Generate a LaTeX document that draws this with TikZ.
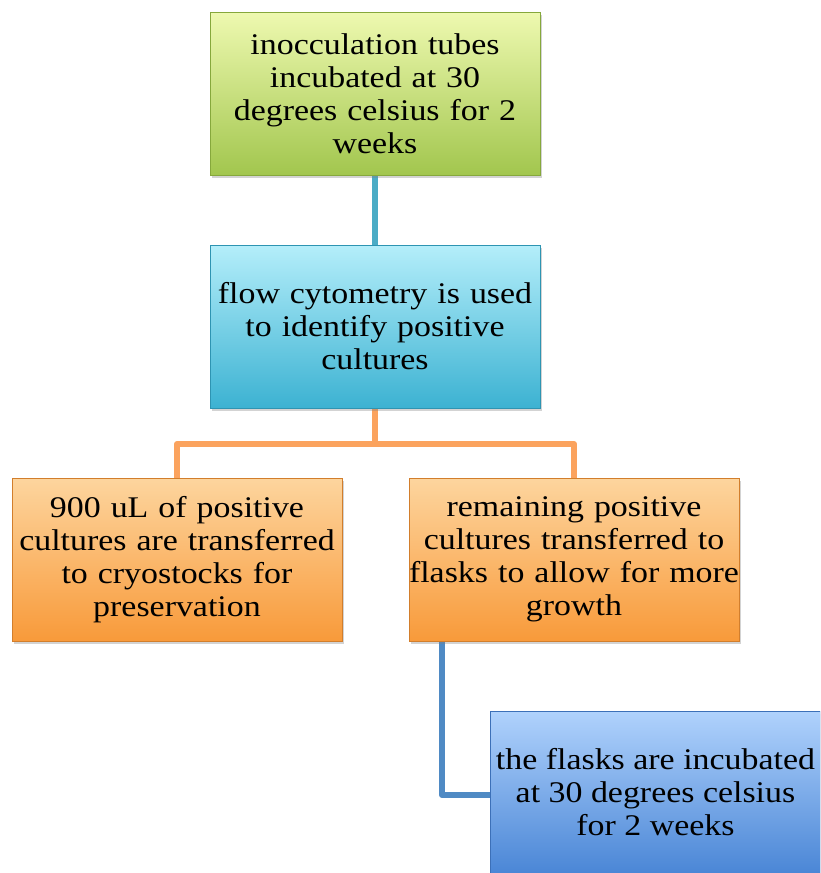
\documentclass[tikz,border=0pt]{standalone}
\usepackage{fontspec}
\setmainfont[FakeStretch=1.13]{Liberation Serif}
\usetikzlibrary{shadows}
\definecolor{gtop}{HTML}{EEF9B0}
\definecolor{gbot}{HTML}{A2C64E}
\definecolor{gbor}{HTML}{86A83C}
\definecolor{ctop}{HTML}{B4EEFA}
\definecolor{cbot}{HTML}{3CB2D2}
\definecolor{cbor}{HTML}{2E94B2}
\definecolor{otop}{HTML}{FDD59E}
\definecolor{obot}{HTML}{F89A3A}
\definecolor{obor}{HTML}{D27E2C}
\definecolor{btop}{HTML}{B0D2FC}
\definecolor{bbot}{HTML}{4A86D6}
\definecolor{bbor}{HTML}{3C70B8}
\definecolor{lteal}{HTML}{4BACC6}
\definecolor{lorange}{HTML}{FBA35E}
\definecolor{lblue}{HTML}{4F8AC4}
\begin{document}
\begin{tikzpicture}[x=1pt,y=-1pt,
  box/.style={rectangle, minimum width=330pt, minimum height=163pt, text width=330pt,
    align=center, inner sep=0pt, line width=0.8pt,
    font=\fontsize{30}{33}\selectfont,
    drop shadow={shadow xshift=2pt, shadow yshift=-3pt, opacity=0.35}},
  greenbox/.style={box, draw=gbor, top color=gtop, bottom color=gbot},
  cyanbox/.style={box, draw=cbor, top color=ctop, bottom color=cbot},
  orangebox/.style={box, draw=obor, top color=otop, bottom color=obot},
  bluebox/.style={box, draw=bbor, top color=btop, bottom color=bbot},
  conn/.style={line width=6pt}]
\useasboundingbox (0,0) rectangle (820,873);
\begin{scope}
\clip (0,0) rectangle (820,873);
\draw[conn, lteal] (375,175) -- (375,245);
\draw[conn, lorange, line join=round] (375,408) -- (375,444);
\draw[conn, lorange, line join=round] (177,478) -- (177,444) -- (574,444) -- (574,478);
\draw[conn, lblue, line join=round] (442,641) -- (442,795) -- (491,795);
\node[greenbox] (top) at (375,93.5) {inocculation tubes\\incubated at 30\\degrees celsius for 2\\weeks};
\node[cyanbox] (flow) at (375,326.5) {flow cytometry is used\\to identify positive\\cultures};
\node[orangebox] (cryo) at (177,559.5) {900 uL of positive\\cultures are transferred\\to cryostocks for\\preservation};
\node[orangebox] (flask) at (574,559.5) {remaining positive\\cultures transferred to\\flasks to allow for more\\growth};
\node[bluebox] (inc) at (655.5,792.5) {};
\node[font=\fontsize{30}{33}\selectfont, align=center, inner sep=0pt] at (655.5,792.5) {the flasks are incubated\\at 30 degrees celsius\\for 2 weeks};
\end{scope}
\end{tikzpicture}
\end{document}
